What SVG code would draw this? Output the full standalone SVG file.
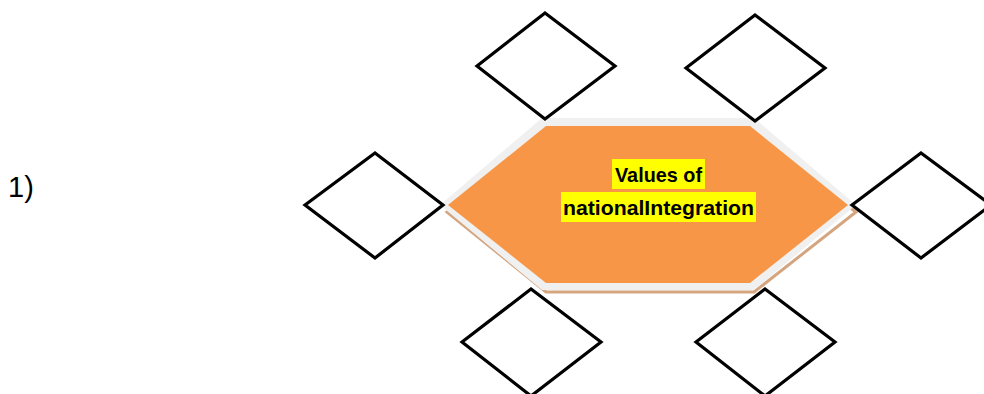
<svg xmlns="http://www.w3.org/2000/svg" width="984" height="394" viewBox="0 0 984 394">
<style>
.dia{fill:#fff;stroke:#000;stroke-width:3.2;stroke-linejoin:miter}
.lbl{font-family:"Liberation Sans",Arial,sans-serif;font-weight:bold;font-size:21px;fill:#000}
.hl{fill:#ffff00}
</style>
<rect width="984" height="394" fill="#fff"/>
<text x="8" y="197" font-family="Liberation Sans, Arial, sans-serif" font-size="29" fill="#000">1)</text>
<g id="center">
<polygon points="447,212 546,292 754,292 856,212 754,134 546,134" fill="none" stroke="#d4a57f" stroke-width="3"/>
<polygon points="440,205 542,118 754,118 856,205 754,290 542,290" fill="#f0f0f0"/>
<polygon points="448,205 546,126 750,126 848,205 750,283 546,283" fill="#f79646"/>
<rect class="hl" x="612" y="159" width="93" height="30"/>
<rect class="hl" x="561" y="192" width="195" height="30"/>
<text class="lbl" x="658.5" y="182" text-anchor="middle" textLength="87" lengthAdjust="spacingAndGlyphs">Values of</text>
<text class="lbl" x="658.5" y="215" text-anchor="middle" textLength="191" lengthAdjust="spacingAndGlyphs">nationalIntegration</text>
</g>
<g id="d-top-left"><polygon class="dia" points="477,66 545,13 615,66 545,119"/></g>
<g id="d-top-right"><polygon class="dia" points="686,68 755,15 825,68 755,121"/></g>
<g id="d-left"><polygon class="dia" points="305,205 375,153 443,205 375,258"/></g>
<g id="d-right"><polygon class="dia" points="852,205 921,153 991,205 921,258"/></g>
<g id="d-bottom-left"><polygon class="dia" points="462,342 531,289 601,342 531,396"/></g>
<g id="d-bottom-right"><polygon class="dia" points="696,342 765,289 835,342 765,396"/></g>
<g id="connectors"></g>
</svg>
